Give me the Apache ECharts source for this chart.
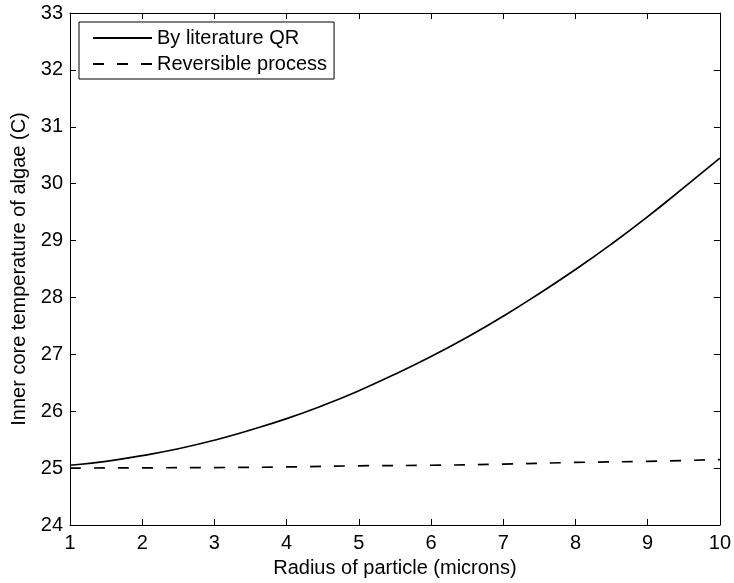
<!DOCTYPE html>
<html>
<head>
<meta charset="utf-8">
<script src="https://cdn.jsdelivr.net/npm/echarts@6/dist/echarts.min.js"></script>
<style>
html,body{margin:0;padding:0;background:#fff;}
#chart{width:734px;height:583px;}
</style>
</head>
<body>
<div id="chart"></div>
<script>
// Data
const radiusQR = [1, 1.5, 2, 2.5, 3, 3.5, 4, 4.5, 5, 5.5, 6, 6.5, 7, 7.5, 8, 8.5, 9, 9.5, 10];
const tempQR = [25.05, 25.12, 25.22, 25.34, 25.49, 25.67, 25.87, 26.10, 26.36, 26.65, 26.96, 27.30, 27.67, 28.07, 28.49, 28.94, 29.42, 29.93, 30.45];
const radiusRev = [1, 2, 3, 4, 5, 6, 7, 8, 9, 10];
const tempRev = [25.00, 25.005, 25.01, 25.02, 25.04, 25.05, 25.07, 25.10, 25.12, 25.15];
const seriesNames = ['By literature QR', 'Reversible process'];
const xName = 'Radius of particle (microns)';
const yName = 'Inner core temperature of algae (C)';

const FONT = 'Liberation Sans, Arial, Helvetica, sans-serif';
const FS = 20;

const chart = echarts.init(document.getElementById('chart'), null, {renderer: 'canvas'});

const baseAxis = {
  axisLine: {show: true, onZero: false, lineStyle: {color: '#000', width: 1}},
  axisTick: {show: true, inside: true, length: 6, lineStyle: {color: '#000', width: 1}},
  splitLine: {show: false}
};

const option = {
  backgroundColor: '#fff',
  animation: false,
  grid: {left: 70, right: 13, top: 13, bottom: 57},
  legend: {
    orient: 'vertical',
    left: 79,
    top: 22,
    padding: [6, 7, 5, 13],
    itemWidth: 59,
    itemHeight: 18,
    itemGap: 6,
    borderColor: '#000',
    borderWidth: 1,
    backgroundColor: '#fff',
    itemStyle: {opacity: 0},
    textStyle: {fontFamily: FONT, fontSize: FS, color: '#000'},
    data: seriesNames
  },
  xAxis: [
    Object.assign({}, baseAxis, {
      type: 'value', min: 1, max: 10, interval: 1, position: 'bottom',
      name: xName, nameLocation: 'middle', nameGap: 33,
      nameTextStyle: {fontFamily: FONT, fontSize: FS, color: '#000'},
      axisLabel: {fontFamily: FONT, fontSize: FS, color: '#000', margin: 8}
    }),
    Object.assign({}, baseAxis, {
      type: 'value', min: 1, max: 10, interval: 1, position: 'top',
      axisLabel: {show: false}
    })
  ],
  yAxis: [
    Object.assign({}, baseAxis, {
      type: 'value', min: 24, max: 33, interval: 1, position: 'left',
      name: yName, nameLocation: 'middle', nameGap: 41,
      nameTextStyle: {fontFamily: FONT, fontSize: FS, color: '#000'},
      axisLabel: {fontFamily: FONT, fontSize: FS, color: '#000', margin: 7}
    }),
    Object.assign({}, baseAxis, {
      type: 'value', min: 24, max: 33, interval: 1, position: 'right',
      axisLabel: {show: false}
    })
  ],
  series: [
    {
      name: seriesNames[0], type: 'line', xAxisIndex: 0, yAxisIndex: 0,
      data: radiusQR.map((r, i) => [r, tempQR[i]]),
      smooth: true, symbol: 'none',
      lineStyle: {color: '#000', width: 1.7, type: 'solid'},
      itemStyle: {color: '#000'}
    },
    {
      name: seriesNames[1], type: 'line', xAxisIndex: 0, yAxisIndex: 0,
      data: radiusRev.map((r, i) => [r, tempRev[i]]),
      smooth: true, symbol: 'none',
      lineStyle: {color: '#000', width: 1.7, type: [11, 13]},
      itemStyle: {color: '#000'}
    }
  ]
};
chart.setOption(option);
</script>
</body>
</html>
